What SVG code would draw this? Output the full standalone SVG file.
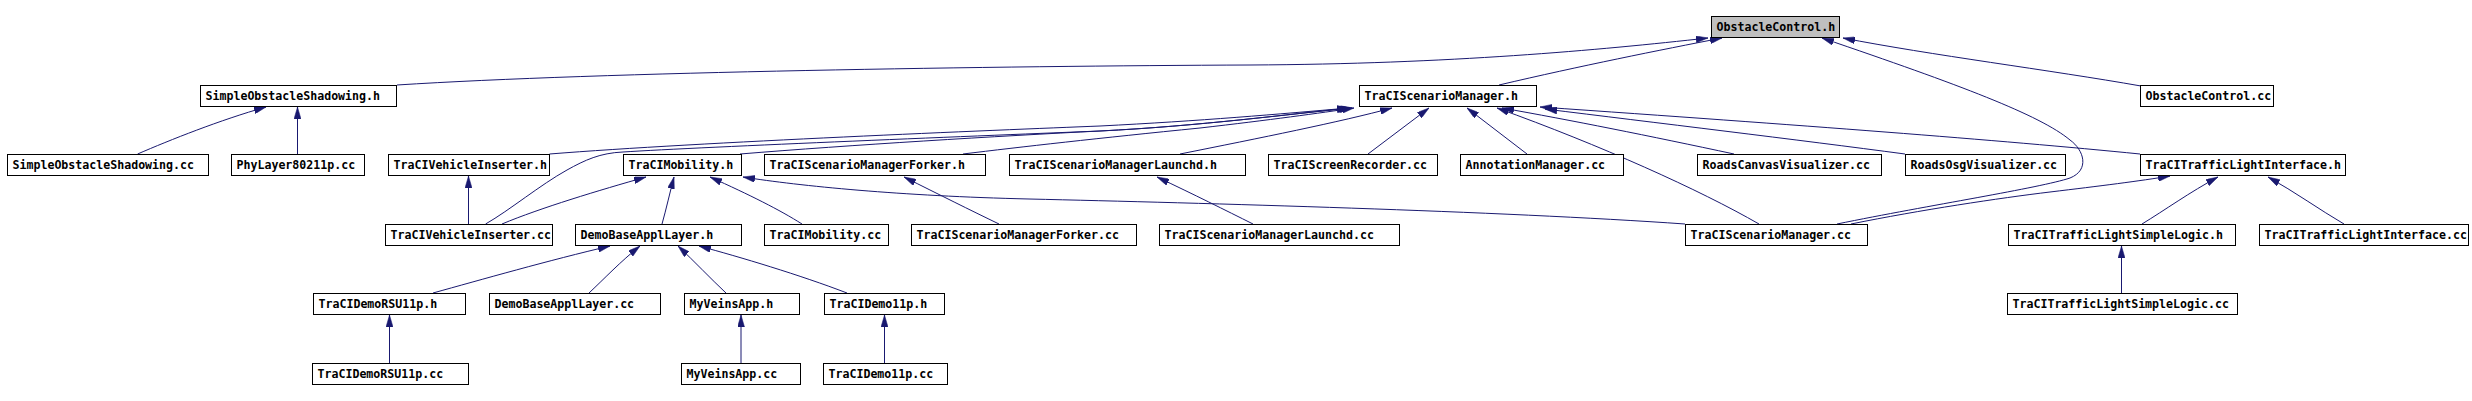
<svg xmlns="http://www.w3.org/2000/svg" width="2472" height="401" viewBox="0 0 2472 401">
<defs>
<style>
.n rect{fill:#ffffff;stroke:#000000;stroke-width:1}
.n.root rect{fill:#bfbfbf}
.n text{font-family:"DejaVu Sans Mono","Liberation Mono",monospace;font-size:11.6px;font-weight:bold;fill:#000000}
.e path{fill:none;stroke:#191970;stroke-width:1;marker-end:url(#arr)}
</style>
<marker id="arr" markerUnits="userSpaceOnUse" markerWidth="12" markerHeight="7" refX="12" refY="3.5" orient="auto">
<path d="M0,0 L12,3.5 L0,7 z" fill="#191970" stroke="#191970" stroke-width="0.5"/>
</marker>
</defs>
<rect x="0" y="0" width="2472" height="401" fill="#ffffff"/>
<g id="edges" class="e">
<path d="M397,85 C600,72 1000,66 1250,65 C1450,64 1600,50 1708,38"/>
<path d="M1499,85 C1580,66 1660,50 1722,38"/>
<path d="M2141,86 C2050,70 1930,55 1843,38"/>
<path d="M1837,224 C1930,205 2040,188 2070,178 C2090,170 2084,150 2070,140 C2040,115 1960,85 1822,38"/>
<path d="M1851,224 C1920,210 2000,198 2050,192 C2100,186 2140,181 2170,176"/>
<path d="M1685,224 C1500,211 1200,203 1029,199 C900,196 800,186 743,177"/>
<path d="M549.5,154 C700,142 1000,130 1100,126 C1200,121 1280,114 1349,108"/>
<path d="M485.6,224 C510,210 540,185 567,170 C585,160 600,153 623,152 C700,147 1000,135 1100,131 C1200,126 1290,114 1350,108"/>
<path d="M740,154 C850,145 1000,136 1100,131 C1200,126 1290,114 1352,108"/>
<path d="M963,154 C1020,147 1100,138 1200,128 C1270,120 1320,113 1354,108"/>
<path d="M1180,154 C1260,138 1340,122 1392,108"/>
<path d="M1368,154 L1429,108"/>
<path d="M1527,154 L1467,108"/>
<path d="M1759,224 C1700,190 1600,145 1497,108"/>
<path d="M1734,154 C1650,136 1570,120 1502,108"/>
<path d="M1905,154 C1800,140 1650,122 1545,109"/>
<path d="M2140,154 C2000,140 1800,125 1540,107"/>
<path d="M468.5,224 L468.5,176"/>
<path d="M502,224 C540,208 600,190 646,177"/>
<path d="M662,224 C666,210 670,192 674,177"/>
<path d="M802,224 C780,210 750,195 710,177"/>
<path d="M999,224 C970,210 940,195 904,177"/>
<path d="M1253,224 C1225,210 1195,195 1157,177"/>
<path d="M2142,224 C2165,210 2190,192 2218,177"/>
<path d="M2344,224 C2320,210 2295,192 2268,177"/>
<path d="M433,293 C480,280 550,260 610,246"/>
<path d="M589,293 C605,278 620,262 640,246"/>
<path d="M726,293 C710,278 695,262 678,246"/>
<path d="M847,293 C800,275 740,257 699,246"/>
<path d="M389.5,363 L389.5,315"/>
<path d="M741,363 L741,315"/>
<path d="M884.5,363 L884.5,315"/>
<path d="M2121.5,293 L2121.5,246"/>
<path d="M137.6,154 C170,140 220,120 266,107"/>
<path d="M297.5,154 L297.5,107"/>
</g>
<g id="ObstacleControl_h" class="n root"><rect x="1711.5" y="16.5" width="128" height="21"/><text x="1716.5" y="30.5">ObstacleControl.h</text></g>
<g id="SimpleObstacleShadowing_h" class="n"><rect x="200.5" y="85.5" width="196" height="21"/><text x="205.5" y="99.5">SimpleObstacleShadowing.h</text></g>
<g id="TraCIScenarioManager_h" class="n"><rect x="1359.5" y="85.5" width="177" height="21"/><text x="1364.5" y="99.5">TraCIScenarioManager.h</text></g>
<g id="ObstacleControl_cc" class="n"><rect x="2140.5" y="85.5" width="133" height="21"/><text x="2145.5" y="99.5">ObstacleControl.cc</text></g>
<g id="SimpleObstacleShadowing_cc" class="n"><rect x="7.5" y="154.5" width="201" height="21"/><text x="12.5" y="168.5">SimpleObstacleShadowing.cc</text></g>
<g id="PhyLayer80211p_cc" class="n"><rect x="231.5" y="154.5" width="133" height="21"/><text x="236.5" y="168.5">PhyLayer80211p.cc</text></g>
<g id="TraCIVehicleInserter_h" class="n"><rect x="388.5" y="154.5" width="161" height="21"/><text x="393.5" y="168.5">TraCIVehicleInserter.h</text></g>
<g id="TraCIMobility_h" class="n"><rect x="623.5" y="154.5" width="118" height="21"/><text x="628.5" y="168.5">TraCIMobility.h</text></g>
<g id="TraCIScenarioManagerForker_h" class="n"><rect x="764.5" y="154.5" width="221" height="21"/><text x="769.5" y="168.5">TraCIScenarioManagerForker.h</text></g>
<g id="TraCIScenarioManagerLaunchd_h" class="n"><rect x="1009.5" y="154.5" width="236" height="21"/><text x="1014.5" y="168.5">TraCIScenarioManagerLaunchd.h</text></g>
<g id="TraCIScreenRecorder_cc" class="n"><rect x="1268.5" y="154.5" width="169" height="21"/><text x="1273.5" y="168.5">TraCIScreenRecorder.cc</text></g>
<g id="AnnotationManager_cc" class="n"><rect x="1460.5" y="154.5" width="163" height="21"/><text x="1465.5" y="168.5">AnnotationManager.cc</text></g>
<g id="RoadsCanvasVisualizer_cc" class="n"><rect x="1697.5" y="154.5" width="184" height="21"/><text x="1702.5" y="168.5">RoadsCanvasVisualizer.cc</text></g>
<g id="RoadsOsgVisualizer_cc" class="n"><rect x="1905.5" y="154.5" width="160" height="21"/><text x="1910.5" y="168.5">RoadsOsgVisualizer.cc</text></g>
<g id="TraCITrafficLightInterface_h" class="n"><rect x="2140.5" y="154.5" width="205" height="21"/><text x="2145.5" y="168.5">TraCITrafficLightInterface.h</text></g>
<g id="TraCIVehicleInserter_cc" class="n"><rect x="385.5" y="224.5" width="167" height="21"/><text x="390.5" y="238.5">TraCIVehicleInserter.cc</text></g>
<g id="DemoBaseApplLayer_h" class="n"><rect x="575.5" y="224.5" width="166" height="21"/><text x="580.5" y="238.5">DemoBaseApplLayer.h</text></g>
<g id="TraCIMobility_cc" class="n"><rect x="764.5" y="224.5" width="124" height="21"/><text x="769.5" y="238.5">TraCIMobility.cc</text></g>
<g id="TraCIScenarioManagerForker_cc" class="n"><rect x="911.5" y="224.5" width="225" height="21"/><text x="916.5" y="238.5">TraCIScenarioManagerForker.cc</text></g>
<g id="TraCIScenarioManagerLaunchd_cc" class="n"><rect x="1159.5" y="224.5" width="240" height="21"/><text x="1164.5" y="238.5">TraCIScenarioManagerLaunchd.cc</text></g>
<g id="TraCIScenarioManager_cc" class="n"><rect x="1685.5" y="224.5" width="182" height="21"/><text x="1690.5" y="238.5">TraCIScenarioManager.cc</text></g>
<g id="TraCITrafficLightSimpleLogic_h" class="n"><rect x="2008.5" y="224.5" width="227" height="21"/><text x="2013.5" y="238.5">TraCITrafficLightSimpleLogic.h</text></g>
<g id="TraCITrafficLightInterface_cc" class="n"><rect x="2259.5" y="224.5" width="209" height="21"/><text x="2264.5" y="238.5">TraCITrafficLightInterface.cc</text></g>
<g id="TraCIDemoRSU11p_h" class="n"><rect x="313.5" y="293.5" width="152" height="21"/><text x="318.5" y="307.5">TraCIDemoRSU11p.h</text></g>
<g id="DemoBaseApplLayer_cc" class="n"><rect x="489.5" y="293.5" width="171" height="21"/><text x="494.5" y="307.5">DemoBaseApplLayer.cc</text></g>
<g id="MyVeinsApp_h" class="n"><rect x="684.5" y="293.5" width="115" height="21"/><text x="689.5" y="307.5">MyVeinsApp.h</text></g>
<g id="TraCIDemo11p_h" class="n"><rect x="824.5" y="293.5" width="120" height="21"/><text x="829.5" y="307.5">TraCIDemo11p.h</text></g>
<g id="TraCITrafficLightSimpleLogic_cc" class="n"><rect x="2007.5" y="293.5" width="230" height="21"/><text x="2012.5" y="307.5">TraCITrafficLightSimpleLogic.cc</text></g>
<g id="TraCIDemoRSU11p_cc" class="n"><rect x="312.5" y="363.5" width="156" height="21"/><text x="317.5" y="377.5">TraCIDemoRSU11p.cc</text></g>
<g id="MyVeinsApp_cc" class="n"><rect x="681.5" y="363.5" width="119" height="21"/><text x="686.5" y="377.5">MyVeinsApp.cc</text></g>
<g id="TraCIDemo11p_cc" class="n"><rect x="823.5" y="363.5" width="124" height="21"/><text x="828.5" y="377.5">TraCIDemo11p.cc</text></g>
</svg>
